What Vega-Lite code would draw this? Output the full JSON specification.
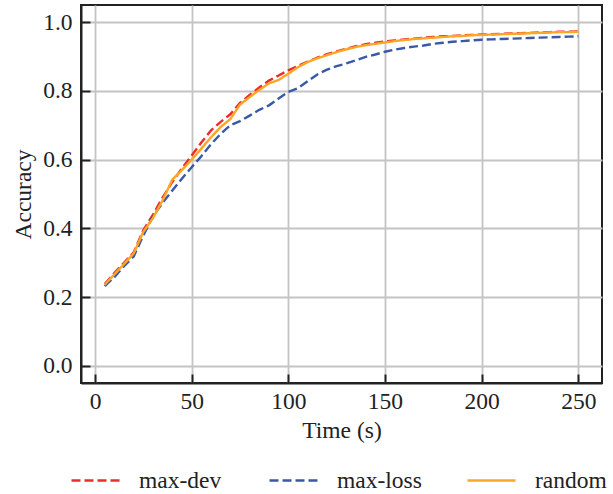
{
  "$schema": "https://vega.github.io/schema/vega-lite/v6.json",
  "width": 521,
  "height": 378,
  "autosize": {"type": "none"},
  "padding": {"left": 81, "top": 5, "right": 11, "bottom": 111},
  "background": "white",
  "config": {
    "font": "Liberation Serif",
    "view": {"stroke": "#222222", "strokeWidth": 2},
    "axis": {
      "labelFont": "Liberation Serif",
      "titleFont": "Liberation Serif",
      "labelFontSize": 23.5,
      "titleFontSize": 23.5,
      "titleFontWeight": "normal",
      "labelColor": "#222222",
      "titleColor": "#222222",
      "domainColor": "#222222",
      "domainWidth": 2,
      "tickColor": "#222222",
      "tickWidth": 2,
      "tickSize": -9,
      "gridColor": "#c4c4c4",
      "gridWidth": 1.8,
      "gridOpacity": 1
    },
    "legend": {
      "labelFont": "Liberation Serif",
      "labelFontSize": 23.5,
      "labelColor": "#222222"
    }
  },
  "data": {
    "values": [
      {"t":5,"acc":0.238,"s":"max-dev"},{"t":10,"acc":0.27,"s":"max-dev"},{"t":15,"acc":0.3,"s":"max-dev"},{"t":20,"acc":0.33,"s":"max-dev"},{"t":25,"acc":0.395,"s":"max-dev"},{"t":30,"acc":0.44,"s":"max-dev"},{"t":35,"acc":0.49,"s":"max-dev"},{"t":40,"acc":0.535,"s":"max-dev"},{"t":45,"acc":0.575,"s":"max-dev"},{"t":50,"acc":0.612,"s":"max-dev"},{"t":55,"acc":0.65,"s":"max-dev"},{"t":60,"acc":0.685,"s":"max-dev"},{"t":65,"acc":0.71,"s":"max-dev"},{"t":70,"acc":0.732,"s":"max-dev"},{"t":75,"acc":0.765,"s":"max-dev"},{"t":80,"acc":0.788,"s":"max-dev"},{"t":85,"acc":0.81,"s":"max-dev"},{"t":90,"acc":0.83,"s":"max-dev"},{"t":95,"acc":0.845,"s":"max-dev"},{"t":100,"acc":0.86,"s":"max-dev"},{"t":105,"acc":0.873,"s":"max-dev"},{"t":110,"acc":0.885,"s":"max-dev"},{"t":115,"acc":0.897,"s":"max-dev"},{"t":120,"acc":0.907,"s":"max-dev"},{"t":125,"acc":0.915,"s":"max-dev"},{"t":130,"acc":0.923,"s":"max-dev"},{"t":135,"acc":0.93,"s":"max-dev"},{"t":140,"acc":0.936,"s":"max-dev"},{"t":145,"acc":0.94,"s":"max-dev"},{"t":150,"acc":0.944,"s":"max-dev"},{"t":155,"acc":0.947,"s":"max-dev"},{"t":160,"acc":0.95,"s":"max-dev"},{"t":165,"acc":0.952,"s":"max-dev"},{"t":170,"acc":0.955,"s":"max-dev"},{"t":175,"acc":0.957,"s":"max-dev"},{"t":180,"acc":0.959,"s":"max-dev"},{"t":185,"acc":0.96,"s":"max-dev"},{"t":190,"acc":0.962,"s":"max-dev"},{"t":195,"acc":0.963,"s":"max-dev"},{"t":200,"acc":0.964,"s":"max-dev"},{"t":205,"acc":0.965,"s":"max-dev"},{"t":210,"acc":0.966,"s":"max-dev"},{"t":215,"acc":0.967,"s":"max-dev"},{"t":220,"acc":0.968,"s":"max-dev"},{"t":225,"acc":0.969,"s":"max-dev"},{"t":230,"acc":0.97,"s":"max-dev"},{"t":235,"acc":0.971,"s":"max-dev"},{"t":240,"acc":0.972,"s":"max-dev"},{"t":245,"acc":0.972,"s":"max-dev"},{"t":250,"acc":0.973,"s":"max-dev"},
      {"t":5,"acc":0.232,"s":"max-loss"},{"t":10,"acc":0.258,"s":"max-loss"},{"t":15,"acc":0.29,"s":"max-loss"},{"t":20,"acc":0.318,"s":"max-loss"},{"t":25,"acc":0.38,"s":"max-loss"},{"t":30,"acc":0.435,"s":"max-loss"},{"t":35,"acc":0.475,"s":"max-loss"},{"t":40,"acc":0.51,"s":"max-loss"},{"t":45,"acc":0.545,"s":"max-loss"},{"t":50,"acc":0.578,"s":"max-loss"},{"t":55,"acc":0.61,"s":"max-loss"},{"t":60,"acc":0.645,"s":"max-loss"},{"t":65,"acc":0.675,"s":"max-loss"},{"t":70,"acc":0.7,"s":"max-loss"},{"t":75,"acc":0.712,"s":"max-loss"},{"t":80,"acc":0.728,"s":"max-loss"},{"t":85,"acc":0.745,"s":"max-loss"},{"t":90,"acc":0.758,"s":"max-loss"},{"t":95,"acc":0.778,"s":"max-loss"},{"t":100,"acc":0.797,"s":"max-loss"},{"t":105,"acc":0.808,"s":"max-loss"},{"t":110,"acc":0.828,"s":"max-loss"},{"t":115,"acc":0.848,"s":"max-loss"},{"t":120,"acc":0.862,"s":"max-loss"},{"t":125,"acc":0.872,"s":"max-loss"},{"t":130,"acc":0.88,"s":"max-loss"},{"t":135,"acc":0.889,"s":"max-loss"},{"t":140,"acc":0.899,"s":"max-loss"},{"t":145,"acc":0.906,"s":"max-loss"},{"t":150,"acc":0.914,"s":"max-loss"},{"t":155,"acc":0.92,"s":"max-loss"},{"t":160,"acc":0.925,"s":"max-loss"},{"t":165,"acc":0.929,"s":"max-loss"},{"t":170,"acc":0.932,"s":"max-loss"},{"t":175,"acc":0.937,"s":"max-loss"},{"t":180,"acc":0.94,"s":"max-loss"},{"t":185,"acc":0.943,"s":"max-loss"},{"t":190,"acc":0.945,"s":"max-loss"},{"t":195,"acc":0.947,"s":"max-loss"},{"t":200,"acc":0.949,"s":"max-loss"},{"t":205,"acc":0.95,"s":"max-loss"},{"t":210,"acc":0.951,"s":"max-loss"},{"t":215,"acc":0.952,"s":"max-loss"},{"t":220,"acc":0.953,"s":"max-loss"},{"t":225,"acc":0.954,"s":"max-loss"},{"t":230,"acc":0.955,"s":"max-loss"},{"t":235,"acc":0.956,"s":"max-loss"},{"t":240,"acc":0.957,"s":"max-loss"},{"t":245,"acc":0.958,"s":"max-loss"},{"t":250,"acc":0.959,"s":"max-loss"},
      {"t":5,"acc":0.236,"s":"random"},{"t":10,"acc":0.266,"s":"random"},{"t":15,"acc":0.296,"s":"random"},{"t":20,"acc":0.327,"s":"random"},{"t":25,"acc":0.39,"s":"random"},{"t":30,"acc":0.43,"s":"random"},{"t":35,"acc":0.482,"s":"random"},{"t":40,"acc":0.542,"s":"random"},{"t":45,"acc":0.57,"s":"random"},{"t":50,"acc":0.6,"s":"random"},{"t":55,"acc":0.632,"s":"random"},{"t":60,"acc":0.665,"s":"random"},{"t":65,"acc":0.695,"s":"random"},{"t":70,"acc":0.718,"s":"random"},{"t":75,"acc":0.76,"s":"random"},{"t":80,"acc":0.782,"s":"random"},{"t":85,"acc":0.803,"s":"random"},{"t":90,"acc":0.822,"s":"random"},{"t":95,"acc":0.832,"s":"random"},{"t":100,"acc":0.85,"s":"random"},{"t":105,"acc":0.869,"s":"random"},{"t":110,"acc":0.884,"s":"random"},{"t":115,"acc":0.895,"s":"random"},{"t":120,"acc":0.904,"s":"random"},{"t":125,"acc":0.913,"s":"random"},{"t":130,"acc":0.921,"s":"random"},{"t":135,"acc":0.928,"s":"random"},{"t":140,"acc":0.933,"s":"random"},{"t":145,"acc":0.937,"s":"random"},{"t":150,"acc":0.941,"s":"random"},{"t":155,"acc":0.945,"s":"random"},{"t":160,"acc":0.948,"s":"random"},{"t":165,"acc":0.951,"s":"random"},{"t":170,"acc":0.953,"s":"random"},{"t":175,"acc":0.955,"s":"random"},{"t":180,"acc":0.957,"s":"random"},{"t":185,"acc":0.959,"s":"random"},{"t":190,"acc":0.96,"s":"random"},{"t":195,"acc":0.962,"s":"random"},{"t":200,"acc":0.963,"s":"random"},{"t":205,"acc":0.964,"s":"random"},{"t":210,"acc":0.965,"s":"random"},{"t":215,"acc":0.966,"s":"random"},{"t":220,"acc":0.967,"s":"random"},{"t":225,"acc":0.968,"s":"random"},{"t":230,"acc":0.969,"s":"random"},{"t":235,"acc":0.97,"s":"random"},{"t":240,"acc":0.971,"s":"random"},{"t":245,"acc":0.971,"s":"random"},{"t":250,"acc":0.972,"s":"random"}
    ]
  },
  "mark": {"type": "line", "strokeWidth": 2.4, "clip": true},
  "encoding": {
    "x": {
      "field": "t", "type": "quantitative",
      "scale": {"domain": [-7.25, 262.25], "nice": false, "zero": false},
      "axis": {"title": "Time (s)", "values": [0, 50, 100, 150, 200, 250], "labelPadding": 15, "titlePadding": 6, "labelFlush": false}
    },
    "y": {
      "field": "acc", "type": "quantitative",
      "scale": {"domain": [-0.05, 1.05], "nice": false, "zero": false},
      "axis": {"title": "Accuracy", "values": [0, 0.2, 0.4, 0.6, 0.8, 1.0], "format": ".1f", "labelPadding": 18, "titlePadding": 7, "labelFlush": false}
    },
    "color": {
      "field": "s", "type": "nominal",
      "scale": {"domain": ["max-dev", "max-loss", "random"], "range": ["#ee2b2b", "#3a58a8", "#fca625"]},
      "legend": {
        "title": null, "orient": "none", "direction": "horizontal", "columns": 3,
        "legendX": -11, "legendY": 450, "padding": 0,
        "symbolType": "stroke", "symbolSize": 2304, "symbolStrokeWidth": 2.4,
        "labelOffset": 18, "gridAlign": "all", "columnPadding": 40
      }
    },
    "strokeDash": {
      "field": "s", "type": "nominal",
      "scale": {"domain": ["max-dev", "max-loss", "random"], "range": [[9, 4], [9, 4], [1, 0]]},
      "legend": {
        "title": null, "orient": "none", "direction": "horizontal", "columns": 3,
        "legendX": -11, "legendY": 450, "padding": 0,
        "symbolType": "stroke", "symbolSize": 2304, "symbolStrokeWidth": 2.4,
        "labelOffset": 18, "gridAlign": "all", "columnPadding": 40
      }
    }
  }
}
